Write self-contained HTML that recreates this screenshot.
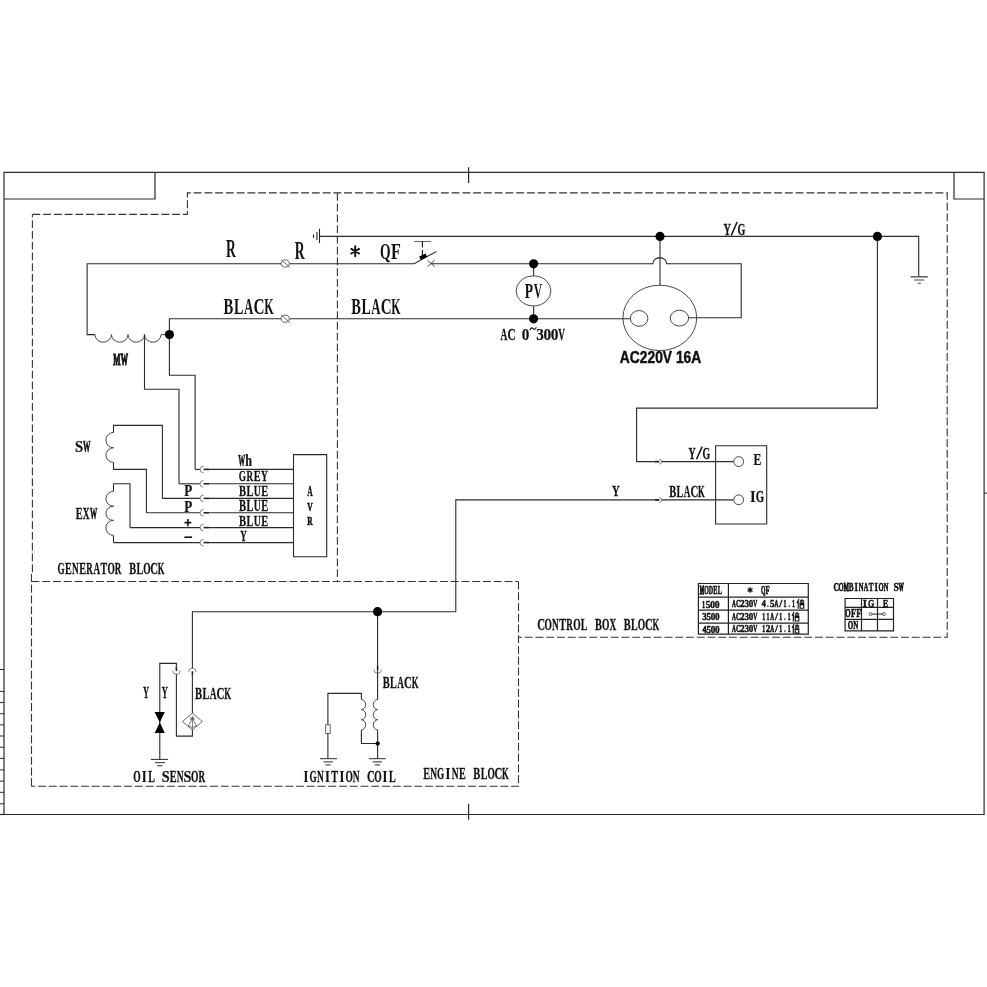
<!DOCTYPE html>
<html><head><meta charset="utf-8"><style>
html,body{margin:0;padding:0;background:#fff;}
svg{display:block;will-change:transform;}
text{font-kerning:none;}
</style></head><body>
<svg width="987" height="987" viewBox="0 0 987 987">
<rect width="987" height="987" fill="#fff"/>
<path d="M4.0,172.3 H984.1 V814.5 H4.0 Z" stroke="#2a2a2a" stroke-width="1.2" fill="none" />
<path d="M4.0,199.0 H155 V172.3" stroke="#2a2a2a" stroke-width="1.2" fill="none" />
<path d="M0,814.5 H4" stroke="#2a2a2a" stroke-width="1.2" fill="none" />
<path d="M954,172.3 V199.0 H984.1" stroke="#2a2a2a" stroke-width="1.2" fill="none" />
<path d="M984,493.1 H987" stroke="#2a2a2a" stroke-width="1.1" fill="none" />
<path d="M468.6,167.2 V183 M468.6,803.7 V819.7" stroke="#2a2a2a" stroke-width="1.2" fill="none" />
<path d="M0,669.5 H4 M0,691.4 H4 M0,702.6 H4 M0,713.7 H4 M0,724.9 H4 M0,736 H4 M0,747.2 H4 M0,758.4 H4 M0,769.9 H4 M0,781.1 H4 M0,792.3 H4 M0,803.8 H4" stroke="#2a2a2a" stroke-width="1.0" fill="none" />
<path d="M32.4,214.4 H187.4 V192.9 H947.2 V637.3 H518.5" stroke="#333" stroke-width="1.1" fill="none" stroke-dasharray="7.9 2.85"/>
<path d="M31.5,786.2 V571.6 H32.4 V214.4" stroke="#333" stroke-width="1.1" fill="none" stroke-dasharray="7.9 2.85"/>
<path d="M518.5,581.5 V786.2 H31.5" stroke="#333" stroke-width="1.1" fill="none" stroke-dasharray="7.9 2.85"/>
<path d="M31.5,581.5 H518.5" stroke="#333" stroke-width="1.1" fill="none" stroke-dasharray="7.9 2.85"/>
<path d="M337.4,192.9 V581.5" stroke="#333" stroke-width="1.1" fill="none" stroke-dasharray="7.9 2.85"/>
<path d="M319.5,236.4 H918.7 V276.3" stroke="#2a2a2a" stroke-width="1.1" fill="none" />
<path d="M319.5,228.7 V243.1 M316.9,231.9 V240.1 M313.5,234.6 V237.9" stroke="#222" stroke-width="1.1" fill="none" />
<path d="M910.7,276.8 H927.8" stroke="#444" stroke-width="1.3" fill="none" />
<path d="M914.1,280 H924.1 M917.6,283.2 H920.9" stroke="#444" stroke-width="1.1" fill="none" />
<path d="M281,263.8 H87.1 V334.6 H95" stroke="#2a2a2a" stroke-width="1.1" fill="none" />
<path d="M95,334.6 a8.25,7.6 0 0 0 16.5,0 a8.25,7.6 0 0 0 16.5,0 a8.25,7.6 0 0 0 16.5,0 a8.25,7.6 0 0 0 16.5,0 H169.4" stroke="#444" stroke-width="1.0" fill="none" />
<path d="M289.4,263.8 H414.1 L436.4,251.4" stroke="#2a2a2a" stroke-width="1.1" fill="none" />
<path d="M431,263.8 H652.9 a6.85,6.2 0 0 1 13.7,0 H741.2 V317.8 H688.6" stroke="#2a2a2a" stroke-width="1.1" fill="none" />
<path d="M414.3,241.5 H431.1" stroke="#666" stroke-width="1.0" fill="none" />
<path d="M422.4,241.1 V247.4 M422.4,250 V256" stroke="#111" stroke-width="1.1" fill="none" />
<path d="M419.2,256.6 L425.6,253.6 L427.1,257 L420.6,259.8 Z" fill="#000"/>
<path d="M427.5,260.3 L434.6,266.6 M427.5,266.6 L434.6,260.3" stroke="#333" stroke-width="0.9" fill="none" />
<ellipse cx="285.2" cy="263.5" rx="4.1" ry="3.6" stroke="#444" stroke-width="0.8" fill="none"/>
<path d="M281.3,259.7 L289.8,267.4" stroke="#444" stroke-width="0.8" fill="none" />
<ellipse cx="285.2" cy="318.7" rx="4.1" ry="3.6" stroke="#444" stroke-width="0.8" fill="none"/>
<path d="M281.3,314.9 L289.8,322.59999999999997" stroke="#444" stroke-width="0.8" fill="none" />
<path d="M169.4,334.6 V318.7 H281" stroke="#2a2a2a" stroke-width="1.1" fill="none" />
<path d="M289.4,318.7 H630.3" stroke="#2a2a2a" stroke-width="1.1" fill="none" />
<path d="M533.6,263.8 V275.8 M533.6,305.9 V318.7" stroke="#2a2a2a" stroke-width="1.1" fill="none" />
<ellipse cx="533.5" cy="290.9" rx="17.4" ry="15.0" stroke="#333" stroke-width="0.9" fill="none"/>
<path d="M660,236.4 V285.2" stroke="#2a2a2a" stroke-width="1.1" fill="none" />
<ellipse cx="659.8" cy="317.9" rx="36.9" ry="32.7" stroke="#333" stroke-width="0.9" fill="none"/>
<ellipse cx="639.1" cy="318.4" rx="8.8" ry="7.9" stroke="#333" stroke-width="0.9" fill="none"/>
<ellipse cx="679.4" cy="318.1" rx="9.2" ry="7.9" stroke="#333" stroke-width="0.9" fill="none"/>
<path d="M877.4,236.4 V408.1 H636.6 V461.6 H659.3" stroke="#2a2a2a" stroke-width="1.1" fill="none" />
<path d="M661.4,461.6 H733.4" stroke="#2a2a2a" stroke-width="1.1" fill="none" />
<path d="M455.8,611.8 V499.9 H659.3" stroke="#2a2a2a" stroke-width="1.1" fill="none" />
<path d="M661.4,499.9 H733.4" stroke="#2a2a2a" stroke-width="1.1" fill="none" />
<path d="M655,461.6 H659.3" stroke="#222" stroke-width="1.6" fill="none" />
<path d="M659.3,459.3 a2.4,2.4 0 0 1 0,4.8" stroke="#666" stroke-width="0.8" fill="none" />
<path d="M655,499.9 H659.3" stroke="#222" stroke-width="1.6" fill="none" />
<path d="M659.3,497.59999999999997 a2.4,2.4 0 0 1 0,4.8" stroke="#666" stroke-width="0.8" fill="none" />
<path d="M715.6,445.7 H766.7 V524 H715.6 Z" stroke="#2a2a2a" stroke-width="1.1" fill="none" />
<ellipse cx="738.7" cy="461.6" rx="4.9" ry="4.9" stroke="#333" stroke-width="0.9" fill="none"/>
<ellipse cx="738.7" cy="499.8" rx="4.9" ry="4.9" stroke="#333" stroke-width="0.9" fill="none"/>
<path d="M144.5,334.6 V389.2 H179 V483.8" stroke="#2a2a2a" stroke-width="1.1" fill="none" />
<path d="M169.4,334.6 V375.3 H195.1 V469.4" stroke="#2a2a2a" stroke-width="1.1" fill="none" />
<path d="M162.4,498.4 V425.4 H113.5 V432.4" stroke="#2a2a2a" stroke-width="1.1" fill="none" />
<path d="M113.5,432.4 a7.6,7.7 0 0 0 0,15.4 a7.6,7.3 0 0 0 0,14.6" stroke="#444" stroke-width="1.0" fill="none" />
<path d="M113.5,462.4 V469.4 H146.4 V512.7" stroke="#2a2a2a" stroke-width="1.1" fill="none" />
<path d="M130,527.6 V483.8 H113.5 V491.3" stroke="#2a2a2a" stroke-width="1.1" fill="none" />
<path d="M113.5,491.3 a7.6,7.45 0 0 0 0,14.9 a7.6,7.1 0 0 0 0,14.2 a7.6,7.5 0 0 0 0,15" stroke="#444" stroke-width="1.0" fill="none" />
<path d="M113.5,535.4 V542.6" stroke="#2a2a2a" stroke-width="1.1" fill="none" />
<path d="M195.1,469.4 H200.2" stroke="#2a2a2a" stroke-width="1.1" fill="none" />
<path d="M203.6,466.09999999999997 a3.6,3.3 0 0 0 0,6.6" stroke="#666" stroke-width="0.8" fill="none" />
<path d="M203.6,469.4 H209" stroke="#222" stroke-width="1.6" fill="none" />
<path d="M209,469.4 H293.5" stroke="#2a2a2a" stroke-width="1.1" fill="none" />
<path d="M179,483.8 H200.2" stroke="#2a2a2a" stroke-width="1.1" fill="none" />
<path d="M203.6,480.5 a3.6,3.3 0 0 0 0,6.6" stroke="#666" stroke-width="0.8" fill="none" />
<path d="M203.6,483.8 H209" stroke="#222" stroke-width="1.6" fill="none" />
<path d="M209,483.8 H293.5" stroke="#2a2a2a" stroke-width="1.1" fill="none" />
<path d="M162.4,498.4 H200.2" stroke="#2a2a2a" stroke-width="1.1" fill="none" />
<path d="M203.6,495.09999999999997 a3.6,3.3 0 0 0 0,6.6" stroke="#666" stroke-width="0.8" fill="none" />
<path d="M203.6,498.4 H209" stroke="#222" stroke-width="1.6" fill="none" />
<path d="M209,498.4 H293.5" stroke="#2a2a2a" stroke-width="1.1" fill="none" />
<path d="M146.4,512.8 H200.2" stroke="#2a2a2a" stroke-width="1.1" fill="none" />
<path d="M203.6,509.49999999999994 a3.6,3.3 0 0 0 0,6.6" stroke="#666" stroke-width="0.8" fill="none" />
<path d="M203.6,512.8 H209" stroke="#222" stroke-width="1.6" fill="none" />
<path d="M209,512.8 H293.5" stroke="#2a2a2a" stroke-width="1.1" fill="none" />
<path d="M130,527.6 H200.2" stroke="#2a2a2a" stroke-width="1.1" fill="none" />
<path d="M203.6,524.3000000000001 a3.6,3.3 0 0 0 0,6.6" stroke="#666" stroke-width="0.8" fill="none" />
<path d="M203.6,527.6 H209" stroke="#222" stroke-width="1.6" fill="none" />
<path d="M209,527.6 H293.5" stroke="#2a2a2a" stroke-width="1.1" fill="none" />
<path d="M113.5,542.6 H200.2" stroke="#2a2a2a" stroke-width="1.1" fill="none" />
<path d="M203.6,539.3000000000001 a3.6,3.3 0 0 0 0,6.6" stroke="#666" stroke-width="0.8" fill="none" />
<path d="M203.6,542.6 H209" stroke="#222" stroke-width="1.6" fill="none" />
<path d="M209,542.6 H293.5" stroke="#2a2a2a" stroke-width="1.1" fill="none" />
<path d="M293.5,454.6 H326.7 V556.7 H293.5 Z" stroke="#2a2a2a" stroke-width="1.1" fill="none" />
<path d="M455.8,611.8 H192.4 V668.5" stroke="#2a2a2a" stroke-width="1.1" fill="none" />
<path d="M188.6,672 a3.8,3.8 0 0 1 7.6,0" stroke="#666" stroke-width="0.8" fill="none" />
<path d="M192.4,671.2 V675.5" stroke="#222" stroke-width="1.6" fill="none" />
<path d="M192.4,675.5 V713.3" stroke="#2a2a2a" stroke-width="1.1" fill="none" />
<path d="M192.4,713.3 L202.4,721.5 L192.4,729.9 L182.4,721.5 Z" stroke="#444" stroke-width="0.8" fill="none" />
<path d="M192.4,716 V729.9 M188.2,726 L192.4,718.5 L196.6,726 M188,726 Q192.4,728.5 196.8,726" stroke="#444" stroke-width="0.7" fill="none" />
<path d="M190.2,717.6 L194.6,719.4 M194.6,717.6 L190.2,719.4" stroke="#222" stroke-width="0.7" fill="none" />
<path d="M192.4,729.9 V736.1 H176.4 V673.7" stroke="#2a2a2a" stroke-width="1.1" fill="none" />
<path d="M172.6,670.6 a3.8,3.8 0 0 0 7.6,0" stroke="#666" stroke-width="0.8" fill="none" />
<path d="M176.4,666.5 V671" stroke="#222" stroke-width="1.6" fill="none" />
<path d="M176.4,666.5 V663.4 H159.8 V759.4" stroke="#2a2a2a" stroke-width="1.1" fill="none" />
<path d="M154.6,712 H164.8 L159.8,722.5 Z M154.6,733 H164.8 L159.8,722.5 Z" fill="#000"/>
<path d="M150.8,759.4 H168.1 M155,762.7 H165 M157.3,765.8 H162.5" stroke="#2a2a2a" stroke-width="1.0" fill="none" />
<path d="M377.6,611.7 V669" stroke="#2a2a2a" stroke-width="1.1" fill="none" />
<path d="M373.8,669.5 a3.8,3.8 0 0 0 7.6,0" stroke="#666" stroke-width="0.8" fill="none" />
<path d="M377.6,666 V670" stroke="#222" stroke-width="1.6" fill="none" />
<path d="M377.6,670 V699.5" stroke="#2a2a2a" stroke-width="1.1" fill="none" />
<path d="M377.6,699.5 a4.5,5.07 0 0 0 0,10.13 a4.5,5.07 0 0 0 0,10.13 a4.5,5.07 0 0 0 0,10.13" stroke="#444" stroke-width="1.0" fill="none" />
<path d="M377.6,729.9 V758.7" stroke="#2a2a2a" stroke-width="1.1" fill="none" />
<path d="M361.4,699.5 V693.4 H327.9 V724.8 M327.9,733.5 V758.7" stroke="#2a2a2a" stroke-width="1.1" fill="none" />
<path d="M361.4,699.5 a4.5,5.07 0 0 1 0,10.13 a4.5,5.07 0 0 1 0,10.13 a4.5,5.07 0 0 1 0,10.13" stroke="#444" stroke-width="1.0" fill="none" />
<path d="M361.4,729.9 V743.5 H377.6" stroke="#2a2a2a" stroke-width="1.1" fill="none" />
<circle cx="377.6" cy="743.5" r="2.0" fill="#000"/>
<rect x="325.7" y="724.8" width="4.5" height="8.7" fill="none" stroke="#444" stroke-width="0.8"/>
<path d="M320,758.7 H337 M323.5,761.9 H333 M325.6,764.9 H330.6" stroke="#2a2a2a" stroke-width="1.0" fill="none" />
<path d="M369,758.7 H385.7 M372.7,761.9 H382 M374.8,764.9 H380" stroke="#2a2a2a" stroke-width="1.0" fill="none" />
<path d="M698.4,583.5 H808.3 V634.2 H698.4 Z M728.4,583.5 V634.2 M698.4,597.2 H808.3 M698.4,610.2 H808.3 M698.4,623.2 H808.3" stroke="#222" stroke-width="1.2" fill="none" />
<path d="M845.1,598.5 H893.5 V630.9 H845.1 Z M861.5,598.5 V630.9 M877.5,598.5 V630.9 M845.1,607.4 H893.5 M845.1,619.4 H893.5" stroke="#222" stroke-width="1.2" fill="none" />
<path d="M872,614.1 H882.3" stroke="#222" stroke-width="1.0" fill="none" />
<ellipse cx="870.5" cy="614.1" rx="1.5" ry="1.5" stroke="#333" stroke-width="0.8" fill="none"/>
<ellipse cx="883.8" cy="614.1" rx="1.5" ry="1.5" stroke="#333" stroke-width="0.8" fill="none"/>
<path d="M355.2,246.3 V256.2 M351.3,248.9 L359.1,253.5 M351.3,253.5 L359.1,248.9" stroke="#111" stroke-width="1.9" fill="none" stroke-linecap="round"/>
<text transform="translate(225.97 256.50) scale(0.5596 1)" font-family='"Liberation Serif", serif' font-weight="bold" font-size="24.28" fill="#111">R</text>
<text transform="translate(294.67 259.00) scale(0.5689 1)" font-family='"Liberation Serif", serif' font-weight="bold" font-size="24.13" fill="#111">R</text>
<text transform="translate(379.94 259.00) scale(0.5854 1)" font-family='"Liberation Serif", serif' font-weight="bold" font-size="23.21" fill="#111">Q</text>
<text transform="translate(390.93 259.00) scale(0.6938 1)" font-family='"Liberation Serif", serif' font-weight="bold" font-size="23.21" fill="#111">F</text>
<text transform="translate(223.56 313.50) scale(0.6531 1)" font-family='"Liberation Serif", serif' font-weight="bold" font-size="22.45" fill="#111">B</text>
<text transform="translate(233.95 313.50) scale(0.6317 1)" font-family='"Liberation Serif", serif' font-weight="bold" font-size="22.45" fill="#111">L</text>
<text transform="translate(243.96 313.50) scale(0.5767 1)" font-family='"Liberation Serif", serif' font-weight="bold" font-size="22.45" fill="#111">A</text>
<text transform="translate(253.48 313.50) scale(0.6809 1)" font-family='"Liberation Serif", serif' font-weight="bold" font-size="22.45" fill="#111">C</text>
<text transform="translate(264.16 313.50) scale(0.5400 1)" font-family='"Liberation Serif", serif' font-weight="bold" font-size="22.45" fill="#111">K</text>
<text transform="translate(351.26 313.50) scale(0.6426 1)" font-family='"Liberation Serif", serif' font-weight="bold" font-size="22.45" fill="#111">B</text>
<text transform="translate(361.49 313.50) scale(0.6215 1)" font-family='"Liberation Serif", serif' font-weight="bold" font-size="22.45" fill="#111">L</text>
<text transform="translate(371.33 313.50) scale(0.5674 1)" font-family='"Liberation Serif", serif' font-weight="bold" font-size="22.45" fill="#111">A</text>
<text transform="translate(380.70 313.50) scale(0.6699 1)" font-family='"Liberation Serif", serif' font-weight="bold" font-size="22.45" fill="#111">C</text>
<text transform="translate(391.21 313.50) scale(0.5314 1)" font-family='"Liberation Serif", serif' font-weight="bold" font-size="22.45" fill="#111">K</text>
<text transform="translate(524.77 297.60) scale(0.6771 1)" font-family='"Liberation Serif", serif' font-weight="bold" font-size="20.01" fill="#111">P</text>
<text transform="translate(533.66 297.60) scale(0.5793 1)" font-family='"Liberation Serif", serif' font-weight="bold" font-size="20.01" fill="#111">V</text>
<text transform="translate(500.61 340.30) scale(0.5441 1)" font-family='"Liberation Serif", serif' font-weight="bold" font-size="17.41" fill="#111" stroke="#111" stroke-width="0.306">A</text>
<text transform="translate(507.57 340.30) scale(0.6424 1)" font-family='"Liberation Serif", serif' font-weight="bold" font-size="17.41" fill="#111" stroke="#111" stroke-width="0.273">C</text>
<text transform="translate(521.82 340.30) scale(0.8673 1)" font-family='"Liberation Serif", serif' font-weight="bold" font-size="17.41" fill="#111" stroke="#111" stroke-width="0.221">0</text>
<text transform="translate(536.23 340.30) scale(0.8698 1)" font-family='"Liberation Serif", serif' font-weight="bold" font-size="17.41" fill="#111" stroke="#111" stroke-width="0.221">3</text>
<text transform="translate(543.42 340.30) scale(0.8788 1)" font-family='"Liberation Serif", serif' font-weight="bold" font-size="17.41" fill="#111" stroke="#111" stroke-width="0.219">0</text>
<text transform="translate(550.63 340.30) scale(0.8788 1)" font-family='"Liberation Serif", serif' font-weight="bold" font-size="17.41" fill="#111" stroke="#111" stroke-width="0.219">0</text>
<text transform="translate(558.31 340.30) scale(0.5323 1)" font-family='"Liberation Serif", serif' font-weight="bold" font-size="17.41" fill="#111" stroke="#111" stroke-width="0.311">V</text>
<path d="M529.8,330.2 Q531.3,326.6 533.2,328.6 Q534.8,330.4 536.3,327.2" stroke="#111" stroke-width="1.1" fill="none" />
<text transform="translate(619.86 363.00) scale(0.8641 1)" font-family='"Liberation Sans", sans-serif' font-weight="bold" font-size="15.99" fill="#111" stroke="#111" stroke-width="0.450">AC220V 16A</text>
<text transform="translate(723.42 234.50) scale(0.5846 1)" font-family='"Liberation Serif", serif' font-weight="bold" font-size="17.72" fill="#111" stroke="#111" stroke-width="0.291">Y</text>
<text transform="translate(737.51 234.50) scale(0.5712 1)" font-family='"Liberation Serif", serif' font-weight="bold" font-size="17.72" fill="#111" stroke="#111" stroke-width="0.296">G</text>
<path d="M737.1,222.0 L731.3,235.4" stroke="#111" stroke-width="1.5" fill="none" />
<text transform="translate(113.37 364.50) scale(0.4570 1)" font-family='"Liberation Serif", serif' font-weight="bold" font-size="17.10" fill="#111" stroke="#111" stroke-width="1.246">M</text>
<text transform="translate(120.71 364.50) scale(0.4230 1)" font-family='"Liberation Serif", serif' font-weight="bold" font-size="17.10" fill="#111" stroke="#111" stroke-width="1.315">W</text>
<text transform="translate(75.12 452.20) scale(0.8776 1)" font-family='"Liberation Serif", serif' font-weight="bold" font-size="16.65" fill="#111" stroke="#111" stroke-width="0.219">S</text>
<text transform="translate(83.05 452.20) scale(0.4443 1)" font-family='"Liberation Serif", serif' font-weight="bold" font-size="16.65" fill="#111" stroke="#111" stroke-width="0.706">W</text>
<text transform="translate(75.72 518.70) scale(0.6195 1)" font-family='"Liberation Serif", serif' font-weight="bold" font-size="16.65" fill="#111" stroke="#111" stroke-width="0.280">E</text>
<text transform="translate(82.81 518.70) scale(0.5676 1)" font-family='"Liberation Serif", serif' font-weight="bold" font-size="16.65" fill="#111" stroke="#111" stroke-width="0.297">X</text>
<text transform="translate(89.93 518.70) scale(0.4317 1)" font-family='"Liberation Serif", serif' font-weight="bold" font-size="16.65" fill="#111" stroke="#111" stroke-width="0.720">W</text>
<text transform="translate(238.30 465.90) scale(0.4292 1)" font-family='"Liberation Serif", serif' font-weight="bold" font-size="16.04" fill="#111" stroke="#111" stroke-width="0.723">W</text>
<text transform="translate(245.26 465.90) scale(0.7564 1)" font-family='"Liberation Serif", serif' font-weight="bold" font-size="16.04" fill="#111" stroke="#111" stroke-width="0.243">h</text>
<text transform="translate(238.85 481.30) scale(0.6283 1)" font-family='"Liberation Serif", serif' font-weight="bold" font-size="14.81" fill="#111" stroke="#111" stroke-width="0.277">G</text>
<text transform="translate(246.40 481.30) scale(0.6176 1)" font-family='"Liberation Serif", serif' font-weight="bold" font-size="14.81" fill="#111" stroke="#111" stroke-width="0.280">R</text>
<text transform="translate(253.82 481.30) scale(0.6955 1)" font-family='"Liberation Serif", serif' font-weight="bold" font-size="14.81" fill="#111" stroke="#111" stroke-width="0.258">E</text>
<text transform="translate(260.90 481.30) scale(0.6431 1)" font-family='"Liberation Serif", serif' font-weight="bold" font-size="14.81" fill="#111" stroke="#111" stroke-width="0.272">Y</text>
<text transform="translate(239.12 495.90) scale(0.7127 1)" font-family='"Liberation Serif", serif' font-weight="bold" font-size="14.81" fill="#111" stroke="#111" stroke-width="0.254">B</text>
<text transform="translate(246.61 495.90) scale(0.6893 1)" font-family='"Liberation Serif", serif' font-weight="bold" font-size="14.81" fill="#111" stroke="#111" stroke-width="0.259">L</text>
<text transform="translate(253.66 495.90) scale(0.6599 1)" font-family='"Liberation Serif", serif' font-weight="bold" font-size="14.81" fill="#111" stroke="#111" stroke-width="0.268">U</text>
<text transform="translate(261.22 495.90) scale(0.7000 1)" font-family='"Liberation Serif", serif' font-weight="bold" font-size="14.81" fill="#111" stroke="#111" stroke-width="0.257">E</text>
<text transform="translate(239.12 511.30) scale(0.6584 1)" font-family='"Liberation Serif", serif' font-weight="bold" font-size="16.04" fill="#111" stroke="#111" stroke-width="0.268">B</text>
<text transform="translate(246.61 511.30) scale(0.6368 1)" font-family='"Liberation Serif", serif' font-weight="bold" font-size="16.04" fill="#111" stroke="#111" stroke-width="0.274">L</text>
<text transform="translate(253.66 511.30) scale(0.6096 1)" font-family='"Liberation Serif", serif' font-weight="bold" font-size="16.04" fill="#111" stroke="#111" stroke-width="0.283">U</text>
<text transform="translate(261.22 511.30) scale(0.6467 1)" font-family='"Liberation Serif", serif' font-weight="bold" font-size="16.04" fill="#111" stroke="#111" stroke-width="0.271">E</text>
<text transform="translate(239.12 525.60) scale(0.6778 1)" font-family='"Liberation Serif", serif' font-weight="bold" font-size="15.58" fill="#111" stroke="#111" stroke-width="0.263">B</text>
<text transform="translate(246.61 525.60) scale(0.6555 1)" font-family='"Liberation Serif", serif' font-weight="bold" font-size="15.58" fill="#111" stroke="#111" stroke-width="0.269">L</text>
<text transform="translate(253.66 525.60) scale(0.6276 1)" font-family='"Liberation Serif", serif' font-weight="bold" font-size="15.58" fill="#111" stroke="#111" stroke-width="0.277">U</text>
<text transform="translate(261.22 525.60) scale(0.6657 1)" font-family='"Liberation Serif", serif' font-weight="bold" font-size="15.58" fill="#111" stroke="#111" stroke-width="0.266">E</text>
<text transform="translate(240.14 540.50) scale(0.6105 1)" font-family='"Liberation Serif", serif' font-weight="bold" font-size="14.81" fill="#111" stroke="#111" stroke-width="0.283">Y</text>
<text transform="translate(184.18 496.10) scale(0.8161 1)" font-family='"Liberation Serif", serif' font-weight="bold" font-size="16.04" fill="#111" stroke="#111" stroke-width="0.231">P</text>
<text transform="translate(184.18 512.30) scale(0.8161 1)" font-family='"Liberation Serif", serif' font-weight="bold" font-size="16.04" fill="#111" stroke="#111" stroke-width="0.231">P</text>
<path d="M184.5,522.6 H191.3 M187.9,519.0 V526.2" stroke="#111" stroke-width="1.6" fill="none" />
<path d="M184.4,537.2 H192.1" stroke="#111" stroke-width="1.6" fill="none" />
<text transform="translate(307.23 496.00) scale(0.5469 1)" font-family='"Liberation Serif", serif' font-weight="bold" font-size="13.74" fill="#111" stroke="#111" stroke-width="0.305">A</text>
<text transform="translate(307.21 510.50) scale(0.6123 1)" font-family='"Liberation Serif", serif' font-weight="bold" font-size="12.37" fill="#111" stroke="#111" stroke-width="0.564">V</text>
<text transform="translate(307.17 525.00) scale(0.6077 1)" font-family='"Liberation Serif", serif' font-weight="bold" font-size="12.22" fill="#111" stroke="#111" stroke-width="0.567">R</text>
<text transform="translate(57.45 574.40) scale(0.5502 1)" font-family='"Liberation Serif", serif' font-weight="bold" font-size="16.65" fill="#111" stroke="#111" stroke-width="0.304">G</text>
<text transform="translate(65.05 574.40) scale(0.6091 1)" font-family='"Liberation Serif", serif' font-weight="bold" font-size="16.65" fill="#111" stroke="#111" stroke-width="0.283">E</text>
<text transform="translate(72.00 574.40) scale(0.5596 1)" font-family='"Liberation Serif", serif' font-weight="bold" font-size="16.65" fill="#111" stroke="#111" stroke-width="0.300">N</text>
<text transform="translate(79.33 574.40) scale(0.6091 1)" font-family='"Liberation Serif", serif' font-weight="bold" font-size="16.65" fill="#111" stroke="#111" stroke-width="0.283">E</text>
<text transform="translate(86.31 574.40) scale(0.5408 1)" font-family='"Liberation Serif", serif' font-weight="bold" font-size="16.65" fill="#111" stroke="#111" stroke-width="0.308">R</text>
<text transform="translate(93.52 574.40) scale(0.5476 1)" font-family='"Liberation Serif", serif' font-weight="bold" font-size="16.65" fill="#111" stroke="#111" stroke-width="0.305">A</text>
<text transform="translate(100.59 574.40) scale(0.6068 1)" font-family='"Liberation Serif", serif' font-weight="bold" font-size="16.65" fill="#111" stroke="#111" stroke-width="0.284">T</text>
<text transform="translate(107.43 574.40) scale(0.5676 1)" font-family='"Liberation Serif", serif' font-weight="bold" font-size="16.65" fill="#111" stroke="#111" stroke-width="0.297">O</text>
<text transform="translate(114.87 574.40) scale(0.5408 1)" font-family='"Liberation Serif", serif' font-weight="bold" font-size="16.65" fill="#111" stroke="#111" stroke-width="0.308">R</text>
<text transform="translate(129.14 574.40) scale(0.6201 1)" font-family='"Liberation Serif", serif' font-weight="bold" font-size="16.65" fill="#111" stroke="#111" stroke-width="0.279">B</text>
<text transform="translate(136.46 574.40) scale(0.5998 1)" font-family='"Liberation Serif", serif' font-weight="bold" font-size="16.65" fill="#111" stroke="#111" stroke-width="0.286">L</text>
<text transform="translate(143.13 574.40) scale(0.5676 1)" font-family='"Liberation Serif", serif' font-weight="bold" font-size="16.65" fill="#111" stroke="#111" stroke-width="0.297">O</text>
<text transform="translate(150.21 574.40) scale(0.6465 1)" font-family='"Liberation Serif", serif' font-weight="bold" font-size="16.65" fill="#111" stroke="#111" stroke-width="0.271">C</text>
<text transform="translate(157.73 574.40) scale(0.5128 1)" font-family='"Liberation Serif", serif' font-weight="bold" font-size="16.65" fill="#111" stroke="#111" stroke-width="0.319">K</text>
<text transform="translate(688.43 458.50) scale(0.5748 1)" font-family='"Liberation Serif", serif' font-weight="bold" font-size="17.26" fill="#111" stroke="#111" stroke-width="0.295">Y</text>
<text transform="translate(702.62 458.50) scale(0.5698 1)" font-family='"Liberation Serif", serif' font-weight="bold" font-size="17.26" fill="#111" stroke="#111" stroke-width="0.296">G</text>
<path d="M702.2,446.6 L696.5,459.2" stroke="#111" stroke-width="1.5" fill="none" />
<text transform="translate(753.50 464.80) scale(0.7292 1)" font-family='"Liberation Serif", serif' font-weight="bold" font-size="16.04" fill="#111" stroke="#111" stroke-width="0.249">E</text>
<text transform="translate(750.01 502.40) scale(0.8856 1)" font-family='"Liberation Serif", serif' font-weight="bold" font-size="16.49" fill="#111" stroke="#111" stroke-width="0.218">I</text>
<text transform="translate(755.67 502.40) scale(0.6567 1)" font-family='"Liberation Serif", serif' font-weight="bold" font-size="16.49" fill="#111" stroke="#111" stroke-width="0.268">G</text>
<text transform="translate(612.01 495.50) scale(0.7188 1)" font-family='"Liberation Serif", serif' font-weight="bold" font-size="14.81" fill="#111" stroke="#111" stroke-width="0.252">Y</text>
<text transform="translate(669.23 496.80) scale(0.6239 1)" font-family='"Liberation Serif", serif' font-weight="bold" font-size="16.65" fill="#111" stroke="#111" stroke-width="0.278">B</text>
<text transform="translate(676.59 496.80) scale(0.6034 1)" font-family='"Liberation Serif", serif' font-weight="bold" font-size="16.65" fill="#111" stroke="#111" stroke-width="0.285">L</text>
<text transform="translate(683.68 496.80) scale(0.5508 1)" font-family='"Liberation Serif", serif' font-weight="bold" font-size="16.65" fill="#111" stroke="#111" stroke-width="0.304">A</text>
<text transform="translate(690.42 496.80) scale(0.6504 1)" font-family='"Liberation Serif", serif' font-weight="bold" font-size="16.65" fill="#111" stroke="#111" stroke-width="0.270">C</text>
<text transform="translate(697.99 496.80) scale(0.5158 1)" font-family='"Liberation Serif", serif' font-weight="bold" font-size="16.65" fill="#111" stroke="#111" stroke-width="0.318">K</text>
<text transform="translate(537.27 630.40) scale(0.6268 1)" font-family='"Liberation Serif", serif' font-weight="bold" font-size="17.26" fill="#111" stroke="#111" stroke-width="0.277">C</text>
<text transform="translate(544.51 630.40) scale(0.5503 1)" font-family='"Liberation Serif", serif' font-weight="bold" font-size="17.26" fill="#111" stroke="#111" stroke-width="0.304">O</text>
<text transform="translate(551.98 630.40) scale(0.5425 1)" font-family='"Liberation Serif", serif' font-weight="bold" font-size="17.26" fill="#111" stroke="#111" stroke-width="0.307">N</text>
<text transform="translate(559.17 630.40) scale(0.5883 1)" font-family='"Liberation Serif", serif' font-weight="bold" font-size="17.26" fill="#111" stroke="#111" stroke-width="0.290">T</text>
<text transform="translate(566.36 630.40) scale(0.5243 1)" font-family='"Liberation Serif", serif' font-weight="bold" font-size="17.26" fill="#111" stroke="#111" stroke-width="0.314">R</text>
<text transform="translate(573.22 630.40) scale(0.5503 1)" font-family='"Liberation Serif", serif' font-weight="bold" font-size="17.26" fill="#111" stroke="#111" stroke-width="0.304">O</text>
<text transform="translate(580.87 630.40) scale(0.5815 1)" font-family='"Liberation Serif", serif' font-weight="bold" font-size="17.26" fill="#111" stroke="#111" stroke-width="0.292">L</text>
<text transform="translate(595.05 630.40) scale(0.6013 1)" font-family='"Liberation Serif", serif' font-weight="bold" font-size="17.26" fill="#111" stroke="#111" stroke-width="0.286">B</text>
<text transform="translate(601.93 630.40) scale(0.5503 1)" font-family='"Liberation Serif", serif' font-weight="bold" font-size="17.26" fill="#111" stroke="#111" stroke-width="0.304">O</text>
<text transform="translate(609.40 630.40) scale(0.5410 1)" font-family='"Liberation Serif", serif' font-weight="bold" font-size="17.26" fill="#111" stroke="#111" stroke-width="0.307">X</text>
<text transform="translate(623.76 630.40) scale(0.6013 1)" font-family='"Liberation Serif", serif' font-weight="bold" font-size="17.26" fill="#111" stroke="#111" stroke-width="0.286">B</text>
<text transform="translate(631.12 630.40) scale(0.5815 1)" font-family='"Liberation Serif", serif' font-weight="bold" font-size="17.26" fill="#111" stroke="#111" stroke-width="0.292">L</text>
<text transform="translate(637.82 630.40) scale(0.5503 1)" font-family='"Liberation Serif", serif' font-weight="bold" font-size="17.26" fill="#111" stroke="#111" stroke-width="0.304">O</text>
<text transform="translate(644.93 630.40) scale(0.6268 1)" font-family='"Liberation Serif", serif' font-weight="bold" font-size="17.26" fill="#111" stroke="#111" stroke-width="0.277">C</text>
<text transform="translate(652.49 630.40) scale(0.4971 1)" font-family='"Liberation Serif", serif' font-weight="bold" font-size="17.26" fill="#111" stroke="#111" stroke-width="0.326">K</text>
<text transform="translate(142.95 698.20) scale(0.5226 1)" font-family='"Liberation Serif", serif' font-weight="bold" font-size="16.19" fill="#111" stroke="#111" stroke-width="0.315">Y</text>
<text transform="translate(161.85 698.20) scale(0.5226 1)" font-family='"Liberation Serif", serif' font-weight="bold" font-size="16.19" fill="#111" stroke="#111" stroke-width="0.315">Y</text>
<text transform="translate(194.92 698.60) scale(0.6322 1)" font-family='"Liberation Serif", serif' font-weight="bold" font-size="16.80" fill="#111" stroke="#111" stroke-width="0.276">B</text>
<text transform="translate(202.46 698.60) scale(0.6115 1)" font-family='"Liberation Serif", serif' font-weight="bold" font-size="16.80" fill="#111" stroke="#111" stroke-width="0.282">L</text>
<text transform="translate(209.70 698.60) scale(0.5582 1)" font-family='"Liberation Serif", serif' font-weight="bold" font-size="16.80" fill="#111" stroke="#111" stroke-width="0.301">A</text>
<text transform="translate(216.60 698.60) scale(0.6591 1)" font-family='"Liberation Serif", serif' font-weight="bold" font-size="16.80" fill="#111" stroke="#111" stroke-width="0.268">C</text>
<text transform="translate(224.34 698.60) scale(0.5228 1)" font-family='"Liberation Serif", serif' font-weight="bold" font-size="16.80" fill="#111" stroke="#111" stroke-width="0.315">K</text>
<text transform="translate(133.23 781.90) scale(0.5587 1)" font-family='"Liberation Serif", serif' font-weight="bold" font-size="17.10" fill="#111" stroke="#111" stroke-width="0.301">O</text>
<text transform="translate(141.73 781.90) scale(0.7348 1)" font-family='"Liberation Serif", serif' font-weight="bold" font-size="17.10" fill="#111" stroke="#111" stroke-width="0.248">I</text>
<text transform="translate(148.15 781.90) scale(0.5904 1)" font-family='"Liberation Serif", serif' font-weight="bold" font-size="17.10" fill="#111" stroke="#111" stroke-width="0.289">L</text>
<text transform="translate(161.84 781.90) scale(0.8253 1)" font-family='"Liberation Serif", serif' font-weight="bold" font-size="17.10" fill="#111" stroke="#111" stroke-width="0.229">S</text>
<text transform="translate(169.82 781.90) scale(0.5995 1)" font-family='"Liberation Serif", serif' font-weight="bold" font-size="17.10" fill="#111" stroke="#111" stroke-width="0.286">E</text>
<text transform="translate(176.85 781.90) scale(0.5508 1)" font-family='"Liberation Serif", serif' font-weight="bold" font-size="17.10" fill="#111" stroke="#111" stroke-width="0.304">N</text>
<text transform="translate(183.50 781.90) scale(0.8253 1)" font-family='"Liberation Serif", serif' font-weight="bold" font-size="17.10" fill="#111" stroke="#111" stroke-width="0.229">S</text>
<text transform="translate(191.01 781.90) scale(0.5587 1)" font-family='"Liberation Serif", serif' font-weight="bold" font-size="17.10" fill="#111" stroke="#111" stroke-width="0.301">O</text>
<text transform="translate(198.54 781.90) scale(0.5323 1)" font-family='"Liberation Serif", serif' font-weight="bold" font-size="17.10" fill="#111" stroke="#111" stroke-width="0.311">R</text>
<text transform="translate(382.63 687.90) scale(0.6178 1)" font-family='"Liberation Serif", serif' font-weight="bold" font-size="16.95" fill="#111" stroke="#111" stroke-width="0.280">B</text>
<text transform="translate(390.05 687.90) scale(0.5976 1)" font-family='"Liberation Serif", serif' font-weight="bold" font-size="16.95" fill="#111" stroke="#111" stroke-width="0.287">L</text>
<text transform="translate(397.20 687.90) scale(0.5455 1)" font-family='"Liberation Serif", serif' font-weight="bold" font-size="16.95" fill="#111" stroke="#111" stroke-width="0.306">A</text>
<text transform="translate(404.00 687.90) scale(0.6441 1)" font-family='"Liberation Serif", serif' font-weight="bold" font-size="16.95" fill="#111" stroke="#111" stroke-width="0.272">C</text>
<text transform="translate(411.63 687.90) scale(0.5109 1)" font-family='"Liberation Serif", serif' font-weight="bold" font-size="16.95" fill="#111" stroke="#111" stroke-width="0.320">K</text>
<text transform="translate(303.48 781.60) scale(0.7386 1)" font-family='"Liberation Serif", serif' font-weight="bold" font-size="16.95" fill="#111" stroke="#111" stroke-width="0.247">I</text>
<text transform="translate(309.42 781.60) scale(0.5443 1)" font-family='"Liberation Serif", serif' font-weight="bold" font-size="16.95" fill="#111" stroke="#111" stroke-width="0.306">G</text>
<text transform="translate(316.89 781.60) scale(0.5536 1)" font-family='"Liberation Serif", serif' font-weight="bold" font-size="16.95" fill="#111" stroke="#111" stroke-width="0.303">N</text>
<text transform="translate(325.06 781.60) scale(0.7386 1)" font-family='"Liberation Serif", serif' font-weight="bold" font-size="16.95" fill="#111" stroke="#111" stroke-width="0.247">I</text>
<text transform="translate(331.29 781.60) scale(0.6003 1)" font-family='"Liberation Serif", serif' font-weight="bold" font-size="16.95" fill="#111" stroke="#111" stroke-width="0.286">T</text>
<text transform="translate(339.45 781.60) scale(0.7386 1)" font-family='"Liberation Serif", serif' font-weight="bold" font-size="16.95" fill="#111" stroke="#111" stroke-width="0.247">I</text>
<text transform="translate(345.38 781.60) scale(0.5615 1)" font-family='"Liberation Serif", serif' font-weight="bold" font-size="16.95" fill="#111" stroke="#111" stroke-width="0.300">O</text>
<text transform="translate(352.86 781.60) scale(0.5536 1)" font-family='"Liberation Serif", serif' font-weight="bold" font-size="16.95" fill="#111" stroke="#111" stroke-width="0.303">N</text>
<text transform="translate(366.89 781.60) scale(0.6396 1)" font-family='"Liberation Serif", serif' font-weight="bold" font-size="16.95" fill="#111" stroke="#111" stroke-width="0.273">C</text>
<text transform="translate(374.15 781.60) scale(0.5615 1)" font-family='"Liberation Serif", serif' font-weight="bold" font-size="16.95" fill="#111" stroke="#111" stroke-width="0.300">O</text>
<text transform="translate(382.61 781.60) scale(0.7386 1)" font-family='"Liberation Serif", serif' font-weight="bold" font-size="16.95" fill="#111" stroke="#111" stroke-width="0.247">I</text>
<text transform="translate(389.01 781.60) scale(0.5934 1)" font-family='"Liberation Serif", serif' font-weight="bold" font-size="16.95" fill="#111" stroke="#111" stroke-width="0.288">L</text>
<text transform="translate(423.13 779.40) scale(0.6024 1)" font-family='"Liberation Serif", serif' font-weight="bold" font-size="16.95" fill="#111" stroke="#111" stroke-width="0.285">E</text>
<text transform="translate(430.13 779.40) scale(0.5534 1)" font-family='"Liberation Serif", serif' font-weight="bold" font-size="16.95" fill="#111" stroke="#111" stroke-width="0.303">N</text>
<text transform="translate(437.05 779.40) scale(0.5441 1)" font-family='"Liberation Serif", serif' font-weight="bold" font-size="16.95" fill="#111" stroke="#111" stroke-width="0.306">G</text>
<text transform="translate(445.50 779.40) scale(0.7383 1)" font-family='"Liberation Serif", serif' font-weight="bold" font-size="16.95" fill="#111" stroke="#111" stroke-width="0.247">I</text>
<text transform="translate(451.71 779.40) scale(0.5534 1)" font-family='"Liberation Serif", serif' font-weight="bold" font-size="16.95" fill="#111" stroke="#111" stroke-width="0.303">N</text>
<text transform="translate(459.08 779.40) scale(0.6024 1)" font-family='"Liberation Serif", serif' font-weight="bold" font-size="16.95" fill="#111" stroke="#111" stroke-width="0.285">E</text>
<text transform="translate(473.29 779.40) scale(0.6133 1)" font-family='"Liberation Serif", serif' font-weight="bold" font-size="16.95" fill="#111" stroke="#111" stroke-width="0.282">B</text>
<text transform="translate(480.66 779.40) scale(0.5932 1)" font-family='"Liberation Serif", serif' font-weight="bold" font-size="16.95" fill="#111" stroke="#111" stroke-width="0.288">L</text>
<text transform="translate(487.38 779.40) scale(0.5613 1)" font-family='"Liberation Serif", serif' font-weight="bold" font-size="16.95" fill="#111" stroke="#111" stroke-width="0.300">O</text>
<text transform="translate(494.51 779.40) scale(0.6394 1)" font-family='"Liberation Serif", serif' font-weight="bold" font-size="16.95" fill="#111" stroke="#111" stroke-width="0.274">C</text>
<text transform="translate(502.08 779.40) scale(0.5071 1)" font-family='"Liberation Serif", serif' font-weight="bold" font-size="16.95" fill="#111" stroke="#111" stroke-width="0.322">K</text>
<text transform="translate(699.82 594.00) scale(0.3806 1)" font-family='"Liberation Serif", serif' font-weight="bold" font-size="12.37" fill="#111" stroke="#111" stroke-width="1.259">M</text>
<text transform="translate(704.15 594.00) scale(0.4710 1)" font-family='"Liberation Serif", serif' font-weight="bold" font-size="12.37" fill="#111" stroke="#111" stroke-width="0.678">O</text>
<text transform="translate(708.73 594.00) scale(0.4886 1)" font-family='"Liberation Serif", serif' font-weight="bold" font-size="12.37" fill="#111" stroke="#111" stroke-width="0.660">D</text>
<text transform="translate(713.25 594.00) scale(0.5055 1)" font-family='"Liberation Serif", serif' font-weight="bold" font-size="12.37" fill="#111" stroke="#111" stroke-width="0.645">E</text>
<text transform="translate(717.65 594.00) scale(0.4977 1)" font-family='"Liberation Serif", serif' font-weight="bold" font-size="12.37" fill="#111" stroke="#111" stroke-width="0.652">L</text>
<path d="M750.1,587.6 V592.3 M748.1,588.8 L752.1,591.1 M748.1,591.1 L752.1,588.8" stroke="#111" stroke-width="1.3" fill="none" stroke-linecap="round"/>
<text transform="translate(761.02 594.00) scale(0.4644 1)" font-family='"Liberation Serif", serif' font-weight="bold" font-size="12.22" fill="#111" stroke="#111" stroke-width="0.684">Q</text>
<text transform="translate(765.61 594.00) scale(0.5504 1)" font-family='"Liberation Serif", serif' font-weight="bold" font-size="12.22" fill="#111" stroke="#111" stroke-width="0.608">F</text>
<text transform="translate(702.01 607.60) scale(0.5768 1)" font-family='"Liberation Serif", serif' font-weight="bold" font-size="10.69" fill="#111" stroke="#111" stroke-width="0.588">1</text>
<text transform="translate(705.75 607.60) scale(0.9029 1)" font-family='"Liberation Serif", serif' font-weight="bold" font-size="10.69" fill="#111" stroke="#111" stroke-width="0.430">5</text>
<text transform="translate(710.31 607.60) scale(0.9019 1)" font-family='"Liberation Serif", serif' font-weight="bold" font-size="10.69" fill="#111" stroke="#111" stroke-width="0.430">0</text>
<text transform="translate(714.85 607.60) scale(0.9019 1)" font-family='"Liberation Serif", serif' font-weight="bold" font-size="10.69" fill="#111" stroke="#111" stroke-width="0.430">0</text>
<text transform="translate(702.16 620.40) scale(0.8349 1)" font-family='"Liberation Serif", serif' font-weight="bold" font-size="10.84" fill="#111" stroke="#111" stroke-width="0.454">3</text>
<text transform="translate(706.44 620.40) scale(0.8446 1)" font-family='"Liberation Serif", serif' font-weight="bold" font-size="10.84" fill="#111" stroke="#111" stroke-width="0.450">5</text>
<text transform="translate(710.77 620.40) scale(0.8436 1)" font-family='"Liberation Serif", serif' font-weight="bold" font-size="10.84" fill="#111" stroke="#111" stroke-width="0.451">0</text>
<text transform="translate(715.07 620.40) scale(0.8436 1)" font-family='"Liberation Serif", serif' font-weight="bold" font-size="10.84" fill="#111" stroke="#111" stroke-width="0.451">0</text>
<text transform="translate(702.39 632.50) scale(0.7643 1)" font-family='"Liberation Serif", serif' font-weight="bold" font-size="10.84" fill="#111" stroke="#111" stroke-width="0.483">4</text>
<text transform="translate(706.44 632.50) scale(0.8446 1)" font-family='"Liberation Serif", serif' font-weight="bold" font-size="10.84" fill="#111" stroke="#111" stroke-width="0.450">5</text>
<text transform="translate(710.77 632.50) scale(0.8436 1)" font-family='"Liberation Serif", serif' font-weight="bold" font-size="10.84" fill="#111" stroke="#111" stroke-width="0.451">0</text>
<text transform="translate(715.07 632.50) scale(0.8436 1)" font-family='"Liberation Serif", serif' font-weight="bold" font-size="10.84" fill="#111" stroke="#111" stroke-width="0.451">0</text>
<text transform="translate(731.95 607.10) scale(0.5304 1)" font-family='"Liberation Serif", serif' font-weight="bold" font-size="10.23" fill="#111" stroke="#111" stroke-width="0.624">A</text>
<text transform="translate(735.94 607.10) scale(0.6262 1)" font-family='"Liberation Serif", serif' font-weight="bold" font-size="10.23" fill="#111" stroke="#111" stroke-width="0.555">C</text>
<text transform="translate(740.12 607.10) scale(0.9010 1)" font-family='"Liberation Serif", serif' font-weight="bold" font-size="10.23" fill="#111" stroke="#111" stroke-width="0.430">2</text>
<text transform="translate(744.42 607.10) scale(0.8733 1)" font-family='"Liberation Serif", serif' font-weight="bold" font-size="10.23" fill="#111" stroke="#111" stroke-width="0.440">3</text>
<text transform="translate(748.66 607.10) scale(0.8823 1)" font-family='"Liberation Serif", serif' font-weight="bold" font-size="10.23" fill="#111" stroke="#111" stroke-width="0.437">0</text>
<text transform="translate(753.20 607.10) scale(0.5345 1)" font-family='"Liberation Serif", serif' font-weight="bold" font-size="10.23" fill="#111" stroke="#111" stroke-width="0.620">V</text>
<text transform="translate(761.65 607.10) scale(0.7995 1)" font-family='"Liberation Serif", serif' font-weight="bold" font-size="10.23" fill="#111" stroke="#111" stroke-width="0.468">4</text>
<text transform="translate(767.50 607.10) scale(0.3350 1)" font-family='"Liberation Serif", serif' font-weight="bold" font-size="10.23" fill="#111" stroke="#111" stroke-width="0.860">.</text>
<text transform="translate(769.90 607.10) scale(0.8834 1)" font-family='"Liberation Serif", serif' font-weight="bold" font-size="10.23" fill="#111" stroke="#111" stroke-width="0.436">5</text>
<text transform="translate(774.46 607.10) scale(0.5304 1)" font-family='"Liberation Serif", serif' font-weight="bold" font-size="10.23" fill="#111" stroke="#111" stroke-width="0.624">A</text>
<text transform="translate(779.19 607.10) scale(1.0463 1)" font-family='"Liberation Serif", serif' font-weight="bold" font-size="10.23" fill="#111" stroke="#111" stroke-width="0.388">/</text>
<text transform="translate(783.41 607.10) scale(0.5643 1)" font-family='"Liberation Serif", serif' font-weight="bold" font-size="10.23" fill="#111" stroke="#111" stroke-width="0.597">1</text>
<text transform="translate(788.76 607.10) scale(0.3350 1)" font-family='"Liberation Serif", serif' font-weight="bold" font-size="10.23" fill="#111" stroke="#111" stroke-width="0.860">.</text>
<text transform="translate(791.91 607.10) scale(0.5643 1)" font-family='"Liberation Serif", serif' font-weight="bold" font-size="10.23" fill="#111" stroke="#111" stroke-width="0.597">1</text>
<text transform="translate(731.95 620.20) scale(0.5155 1)" font-family='"Liberation Serif", serif' font-weight="bold" font-size="10.54" fill="#111" stroke="#111" stroke-width="0.636">A</text>
<text transform="translate(735.94 620.20) scale(0.6086 1)" font-family='"Liberation Serif", serif' font-weight="bold" font-size="10.54" fill="#111" stroke="#111" stroke-width="0.566">C</text>
<text transform="translate(740.12 620.20) scale(0.8757 1)" font-family='"Liberation Serif", serif' font-weight="bold" font-size="10.54" fill="#111" stroke="#111" stroke-width="0.439">2</text>
<text transform="translate(744.43 620.20) scale(0.8487 1)" font-family='"Liberation Serif", serif' font-weight="bold" font-size="10.54" fill="#111" stroke="#111" stroke-width="0.449">3</text>
<text transform="translate(748.68 620.20) scale(0.8575 1)" font-family='"Liberation Serif", serif' font-weight="bold" font-size="10.54" fill="#111" stroke="#111" stroke-width="0.445">0</text>
<text transform="translate(753.22 620.20) scale(0.5194 1)" font-family='"Liberation Serif", serif' font-weight="bold" font-size="10.54" fill="#111" stroke="#111" stroke-width="0.633">V</text>
<text transform="translate(762.18 620.20) scale(0.5484 1)" font-family='"Liberation Serif", serif' font-weight="bold" font-size="10.54" fill="#111" stroke="#111" stroke-width="0.609">1</text>
<text transform="translate(766.43 620.20) scale(0.5484 1)" font-family='"Liberation Serif", serif' font-weight="bold" font-size="10.54" fill="#111" stroke="#111" stroke-width="0.609">1</text>
<text transform="translate(770.25 620.20) scale(0.5155 1)" font-family='"Liberation Serif", serif' font-weight="bold" font-size="10.54" fill="#111" stroke="#111" stroke-width="0.636">A</text>
<text transform="translate(774.98 620.20) scale(1.0169 1)" font-family='"Liberation Serif", serif' font-weight="bold" font-size="10.54" fill="#111" stroke="#111" stroke-width="0.395">/</text>
<text transform="translate(779.20 620.20) scale(0.5484 1)" font-family='"Liberation Serif", serif' font-weight="bold" font-size="10.54" fill="#111" stroke="#111" stroke-width="0.609">1</text>
<text transform="translate(784.55 620.20) scale(0.3256 1)" font-family='"Liberation Serif", serif' font-weight="bold" font-size="10.54" fill="#111" stroke="#111" stroke-width="0.877">.</text>
<text transform="translate(787.71 620.20) scale(0.5484 1)" font-family='"Liberation Serif", serif' font-weight="bold" font-size="10.54" fill="#111" stroke="#111" stroke-width="0.609">1</text>
<text transform="translate(731.95 632.30) scale(0.5155 1)" font-family='"Liberation Serif", serif' font-weight="bold" font-size="10.54" fill="#111" stroke="#111" stroke-width="0.636">A</text>
<text transform="translate(735.94 632.30) scale(0.6086 1)" font-family='"Liberation Serif", serif' font-weight="bold" font-size="10.54" fill="#111" stroke="#111" stroke-width="0.566">C</text>
<text transform="translate(740.12 632.30) scale(0.8757 1)" font-family='"Liberation Serif", serif' font-weight="bold" font-size="10.54" fill="#111" stroke="#111" stroke-width="0.439">2</text>
<text transform="translate(744.43 632.30) scale(0.8487 1)" font-family='"Liberation Serif", serif' font-weight="bold" font-size="10.54" fill="#111" stroke="#111" stroke-width="0.449">3</text>
<text transform="translate(748.68 632.30) scale(0.8575 1)" font-family='"Liberation Serif", serif' font-weight="bold" font-size="10.54" fill="#111" stroke="#111" stroke-width="0.445">0</text>
<text transform="translate(753.22 632.30) scale(0.5194 1)" font-family='"Liberation Serif", serif' font-weight="bold" font-size="10.54" fill="#111" stroke="#111" stroke-width="0.633">V</text>
<text transform="translate(762.18 632.30) scale(0.5484 1)" font-family='"Liberation Serif", serif' font-weight="bold" font-size="10.54" fill="#111" stroke="#111" stroke-width="0.609">1</text>
<text transform="translate(765.66 632.30) scale(0.8757 1)" font-family='"Liberation Serif", serif' font-weight="bold" font-size="10.54" fill="#111" stroke="#111" stroke-width="0.439">2</text>
<text transform="translate(770.25 632.30) scale(0.5155 1)" font-family='"Liberation Serif", serif' font-weight="bold" font-size="10.54" fill="#111" stroke="#111" stroke-width="0.636">A</text>
<text transform="translate(774.98 632.30) scale(1.0169 1)" font-family='"Liberation Serif", serif' font-weight="bold" font-size="10.54" fill="#111" stroke="#111" stroke-width="0.395">/</text>
<text transform="translate(779.20 632.30) scale(0.5484 1)" font-family='"Liberation Serif", serif' font-weight="bold" font-size="10.54" fill="#111" stroke="#111" stroke-width="0.609">1</text>
<text transform="translate(784.55 632.30) scale(0.3256 1)" font-family='"Liberation Serif", serif' font-weight="bold" font-size="10.54" fill="#111" stroke="#111" stroke-width="0.877">.</text>
<text transform="translate(787.71 632.30) scale(0.5484 1)" font-family='"Liberation Serif", serif' font-weight="bold" font-size="10.54" fill="#111" stroke="#111" stroke-width="0.609">1</text>
<text transform="translate(833.53 591.20) scale(0.6413 1)" font-family='"Liberation Serif", serif' font-weight="bold" font-size="11.76" fill="#111" stroke="#111" stroke-width="0.546">C</text>
<text transform="translate(838.58 591.20) scale(0.5630 1)" font-family='"Liberation Serif", serif' font-weight="bold" font-size="11.76" fill="#111" stroke="#111" stroke-width="0.598">O</text>
<text transform="translate(843.67 591.20) scale(0.4549 1)" font-family='"Liberation Serif", serif' font-weight="bold" font-size="11.76" fill="#111" stroke="#111" stroke-width="1.111">M</text>
<text transform="translate(848.79 591.20) scale(0.6151 1)" font-family='"Liberation Serif", serif' font-weight="bold" font-size="11.76" fill="#111" stroke="#111" stroke-width="0.562">B</text>
<text transform="translate(854.47 591.20) scale(0.7405 1)" font-family='"Liberation Serif", serif' font-weight="bold" font-size="11.76" fill="#111" stroke="#111" stroke-width="0.494">I</text>
<text transform="translate(858.79 591.20) scale(0.5550 1)" font-family='"Liberation Serif", serif' font-weight="bold" font-size="11.76" fill="#111" stroke="#111" stroke-width="0.604">N</text>
<text transform="translate(863.86 591.20) scale(0.5431 1)" font-family='"Liberation Serif", serif' font-weight="bold" font-size="11.76" fill="#111" stroke="#111" stroke-width="0.613">A</text>
<text transform="translate(868.81 591.20) scale(0.6019 1)" font-family='"Liberation Serif", serif' font-weight="bold" font-size="11.76" fill="#111" stroke="#111" stroke-width="0.571">T</text>
<text transform="translate(874.49 591.20) scale(0.7405 1)" font-family='"Liberation Serif", serif' font-weight="bold" font-size="11.76" fill="#111" stroke="#111" stroke-width="0.494">I</text>
<text transform="translate(878.61 591.20) scale(0.5630 1)" font-family='"Liberation Serif", serif' font-weight="bold" font-size="11.76" fill="#111" stroke="#111" stroke-width="0.598">O</text>
<text transform="translate(883.81 591.20) scale(0.5550 1)" font-family='"Liberation Serif", serif' font-weight="bold" font-size="11.76" fill="#111" stroke="#111" stroke-width="0.604">N</text>
<text transform="translate(893.42 591.20) scale(0.8317 1)" font-family='"Liberation Serif", serif' font-weight="bold" font-size="11.76" fill="#111" stroke="#111" stroke-width="0.455">S</text>
<text transform="translate(898.73 591.20) scale(0.4210 1)" font-family='"Liberation Serif", serif' font-weight="bold" font-size="11.76" fill="#111" stroke="#111" stroke-width="1.173">W</text>
<text transform="translate(862.73 606.60) scale(0.9835 1)" font-family='"Liberation Serif", serif' font-weight="bold" font-size="11.15" fill="#111" stroke="#111" stroke-width="0.405">I</text>
<text transform="translate(867.93 606.60) scale(0.7249 1)" font-family='"Liberation Serif", serif' font-weight="bold" font-size="11.15" fill="#111" stroke="#111" stroke-width="0.501">G</text>
<text transform="translate(883.07 606.60) scale(0.6892 1)" font-family='"Liberation Serif", serif' font-weight="bold" font-size="11.15" fill="#111" stroke="#111" stroke-width="0.519">E</text>
<text transform="translate(845.36 617.10) scale(0.5581 1)" font-family='"Liberation Serif", serif' font-weight="bold" font-size="12.37" fill="#111" stroke="#111" stroke-width="0.602">O</text>
<text transform="translate(850.91 617.10) scale(0.6567 1)" font-family='"Liberation Serif", serif' font-weight="bold" font-size="12.37" fill="#111" stroke="#111" stroke-width="0.537">F</text>
<text transform="translate(856.13 617.10) scale(0.6567 1)" font-family='"Liberation Serif", serif' font-weight="bold" font-size="12.37" fill="#111" stroke="#111" stroke-width="0.537">F</text>
<text transform="translate(847.76 628.90) scale(0.5686 1)" font-family='"Liberation Serif", serif' font-weight="bold" font-size="12.37" fill="#111" stroke="#111" stroke-width="0.594">O</text>
<text transform="translate(853.28 628.90) scale(0.5605 1)" font-family='"Liberation Serif", serif' font-weight="bold" font-size="12.37" fill="#111" stroke="#111" stroke-width="0.600">N</text>
<path d="M799.0,599.0 L796.9,602.9000000000001 M798.2,601.1 V608.7 M801.9,598.9000000000001 V600.5 M799.8000000000001,600.9000000000001 H804.2 M800.52,601.5 L801.21,602.7 M803.28,601.5 L802.59,602.7 M799.3000000000001,603.3000000000001 H804.4000000000001 M800.1,604.6 H803.7 V608.2 H800.1 Z" stroke="#111" stroke-width="1.15" fill="none" />
<path d="M794.1,611.8 L792.0,615.7 M793.3000000000001,613.9 V621.5 M797.0,611.7 V613.3 M794.9000000000001,613.7 H799.3000000000001 M795.62,614.3 L796.3100000000001,615.5 M798.38,614.3 L797.69,615.5 M794.4000000000001,616.1 H799.5000000000001 M795.2,617.4 H798.8000000000001 V621.0 H795.2 Z" stroke="#111" stroke-width="1.15" fill="none" />
<path d="M794.1,623.9 L792.0,627.8000000000001 M793.3000000000001,626.0 V633.6 M797.0,623.8000000000001 V625.4 M794.9000000000001,625.8000000000001 H799.3000000000001 M795.62,626.4 L796.3100000000001,627.6 M798.38,626.4 L797.69,627.6 M794.4000000000001,628.2 H799.5000000000001 M795.2,629.5 H798.8000000000001 V633.1 H795.2 Z" stroke="#111" stroke-width="1.15" fill="none" />
<circle cx="533.6" cy="263.8" r="4.6" fill="#000"/>
<circle cx="533.6" cy="318.8" r="4.6" fill="#000"/>
<circle cx="660" cy="236.4" r="4.6" fill="#000"/>
<circle cx="877.4" cy="236.4" r="4.6" fill="#000"/>
<circle cx="169.4" cy="334.6" r="4.6" fill="#000"/>
<circle cx="377.6" cy="611.7" r="4.6" fill="#000"/>
<circle cx="377.6" cy="743.5" r="2.0" fill="#000"/>
</svg>
</body></html>
